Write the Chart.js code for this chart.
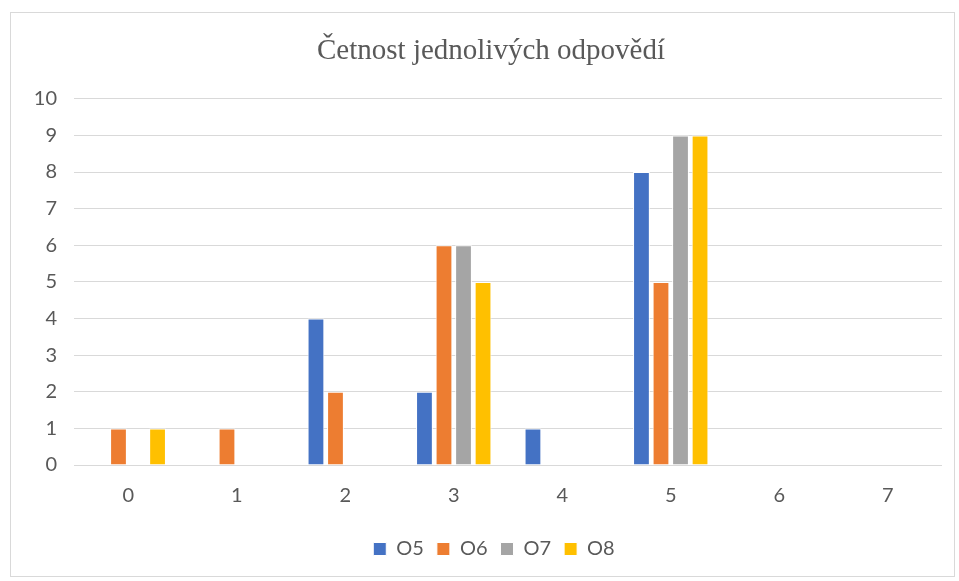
<!DOCTYPE html>
<html>
<head>
<meta charset="utf-8">
<script src="https://cdn.jsdelivr.net/npm/chart.js@4.4.0/dist/chart.umd.min.js"></script>
<style>
  html, body { margin: 0; padding: 0; background: #fff; }
  #wrap { position: relative; width: 959px; height: 581px; }
</style>
</head>
<body>
<div id="wrap"><canvas id="chart" width="959" height="581"></canvas></div>
<script>
// answer values on the x axis
const categories = ['0', '1', '2', '3', '4', '5', '6', '7'];

// counts per question
const o5 = [0, 0, 4, 2, 1, 8, 0, 0];
const o6 = [1, 1, 2, 6, 0, 5, 0, 0];
const o7 = [0, 0, 0, 6, 0, 9, 0, 0];
const o8 = [1, 0, 0, 5, 0, 9, 0, 0];

const seriesNames = ['O5', 'O6', 'O7', 'O8'];
const seriesColors = ['#4472C4', '#ED7D31', '#A5A5A5', '#FFC000'];

const textColor = '#595959';
const sansFont = 'Lato, "Open Sans", sans-serif';

// light frame around the whole chart, like the office chart border
const frame = {
  id: 'frame',
  beforeDraw(chart) {
    const ctx = chart.ctx;
    ctx.save();
    ctx.strokeStyle = '#d9d9d9';
    ctx.lineWidth = 1;
    ctx.strokeRect(10.5, 12.5, 944, 564);
    ctx.restore();
  },
  // title and legend sit a bit right of the plot centre in the original
  afterLayout(chart) {
    chart.titleBlock.left += 15;
    chart.titleBlock.right += 15;
    chart.legend.left += 18;
    chart.legend.right += 18;
  }
};

const ctx = document.getElementById('chart').getContext('2d');
new Chart(ctx, {
  type: 'bar',
  data: {
    labels: categories,
    datasets: [o5, o6, o7, o8].map((values, i) => ({
      label: seriesNames[i],
      data: values,
      backgroundColor: seriesColors[i],
      borderColor: '#ffffff',
      borderWidth: 1,
      categoryPercentage: 0.72,
      barPercentage: 0.86,
    })),
  },
  options: {
    responsive: false,
    animation: false,
    layout: { padding: { left: 10, right: 17, top: 12, bottom: 12 } },
    plugins: {
      title: {
        display: true,
        text: 'Četnost jednolivých odpovědí',
        color: textColor,
        font: { family: '"Liberation Serif", "Times New Roman", serif', size: 29, weight: 'normal' },
        padding: { top: 22, bottom: 30 },
      },
      legend: {
        position: 'bottom',
        labels: {
          color: textColor,
          font: { family: sansFont, size: 20 },
          boxWidth: 13,
          boxHeight: 13,
          padding: 13,
        },
      },
      tooltip: { enabled: false },
    },
    scales: {
      x: {
        grid: { display: false },
        border: { display: false },
        ticks: { color: textColor, font: { family: sansFont, size: 20 }, padding: 11 },
        afterFit(scale) { scale.height = 61; },
      },
      y: {
        min: 0,
        max: 10,
        ticks: { stepSize: 1, color: textColor, font: { family: sansFont, size: 20 }, padding: 17 },
        grid: { color: '#d9d9d9', lineWidth: 1, drawTicks: false },
        border: { display: false },
        afterFit(scale) { scale.width = 64; },
      },
    },
  },
  plugins: [frame],
});
</script>
</body>
</html>
